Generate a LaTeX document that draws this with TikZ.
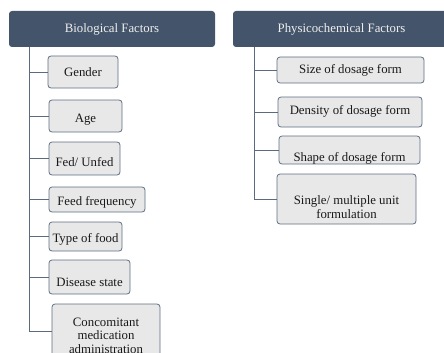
\documentclass[tikz,border=0pt]{standalone}
\usepackage{fontspec}
\setmainfont{Liberation Serif}
\definecolor{headfill}{HTML}{44546A}
\definecolor{boxfill}{HTML}{E8E8E8}
\definecolor{boxline}{HTML}{5F6E82}
\definecolor{linkcol}{HTML}{5A6A7F}
\tikzset{
  header/.style={draw=none, fill=headfill, rounded corners=3pt, inner sep=0pt},
  headtext/.style={text=white!94!black, inner sep=0pt, font=\fontsize{12.8}{14}\selectfont},
  factorbox/.style={draw=boxline, line width=0.8pt, fill=boxfill, rounded corners=3pt, inner sep=0pt},
  factortext/.style={inner sep=0pt, align=center, text=black!90, font=\fontsize{12.8}{13.6}\selectfont},
  link/.style={draw=linkcol, line width=0.9pt},
}
\begin{document}
\begin{tikzpicture}[x=1pt, y=-1pt]
\useasboundingbox (0,0) rectangle (444,353);
\clip (0,0) rectangle (444,353);

% column headers
\node[header, minimum width=206pt, minimum height=36pt] (bio) at (112,29) {};
\node[headtext] (bioT) at (112,29) {Biological Factors};
\node[header, minimum width=217pt, minimum height=36pt] (phys) at (341.5,29) {};
\node[headtext] (physT) at (341.5,29) {Physicochemical Factors};

% trunk tops below each header
\coordinate (bioTop) at (29,47);
\coordinate (physTop) at (254,47);

% biological factors
\node[factorbox, minimum width=70pt, minimum height=32pt] (gender) at (83,72) {};
\node[factortext] (genderT) at (83,72) {Gender};
\node[factorbox, minimum width=73pt, minimum height=32pt] (age) at (85.5,116) {};
\node[factortext] (ageT) at (85.5,120) {Age};
\node[factorbox, minimum width=71pt, minimum height=33pt] (fed) at (84.5,158.5) {};
\node[factortext] (fedT) at (84.5,162) {Fed/ Unfed};
\node[factorbox, minimum width=96pt, minimum height=25pt] (freq) at (97,199.5) {};
\node[factortext] (freqT) at (97,202) {Feed frequency};
\node[factorbox, minimum width=73pt, minimum height=29pt] (food) at (85.5,236.5) {};
\node[factortext] (foodT) at (85.5,239) {Type of food};
\node[factorbox, minimum width=81pt, minimum height=34pt] (disease) at (89.5,277) {};
\node[factortext] (diseaseT) at (89.5,282) {Disease state};
\node[factorbox, minimum width=108pt, minimum height=54pt] (conc) at (106,331) {};
\node[factortext] (concT) at (106,335.5) {Concomitant\\medication\\administration};

% physicochemical factors
\node[factorbox, minimum width=147pt, minimum height=26pt] (size) at (350.5,70) {};
\node[factortext] (sizeT) at (350.5,70) {Size of dosage form};
\node[factorbox, minimum width=144pt, minimum height=30pt] (density) at (350,112) {};
\node[factortext] (densityT) at (350,111) {Density of dosage form};
\node[factorbox, minimum width=141pt, minimum height=28pt] (shape) at (349.5,150) {};
\node[factortext] (shapeT) at (349.5,158) {Shape of dosage form};
\node[factorbox, minimum width=139pt, minimum height=50pt] (single) at (346.5,199) {};
\node[factortext] (singleT) at (346.5,207) {Single/ multiple unit\\formulation};

% connectors
\foreach \b in {gender,age,fed,freq,food,disease,conc}
  \draw[link] (bioTop) |- (\b.west);
\foreach \b in {size,density,shape,single}
  \draw[link] (physTop) |- (\b.west);
\end{tikzpicture}
\end{document}
